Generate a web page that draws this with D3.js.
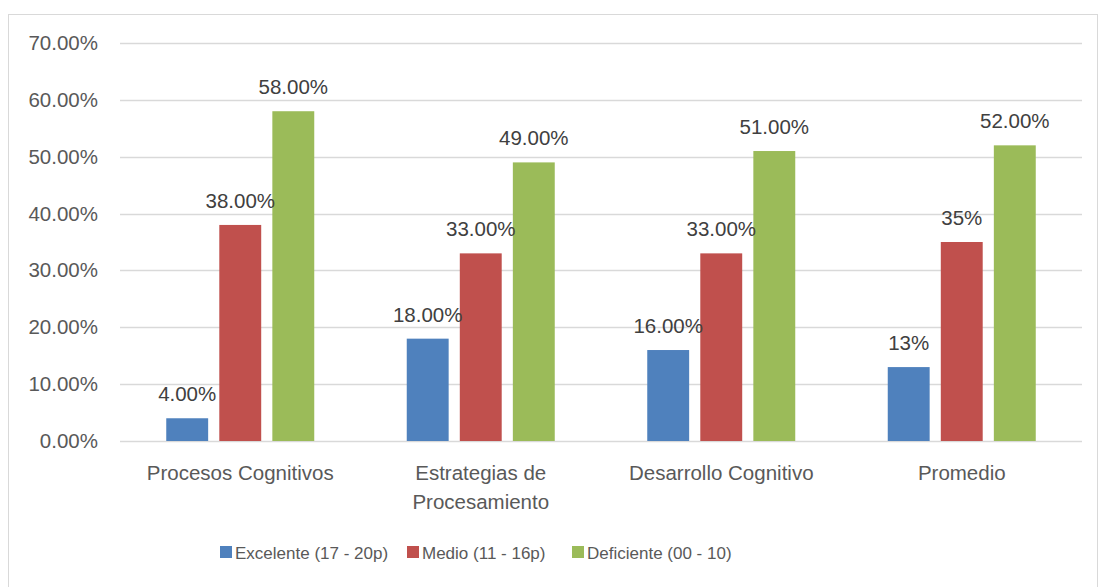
<!DOCTYPE html>
<html>
<head>
<meta charset="utf-8">
<script src="https://cdn.jsdelivr.net/npm/d3@7"></script>
<style>
body { margin: 0; background: #fff; }
svg { font-family: "Liberation Sans", Arial, sans-serif; }
</style>
</head>
<body>
<div id="chart"></div>
<script>
var categories = [["Procesos Cognitivos"], ["Estrategias de", "Procesamiento"], ["Desarrollo Cognitivo"], ["Promedio"]];
var seriesNames = ["Excelente (17 - 20p)", "Medio (11 - 16p)", "Deficiente (00 - 10)"];
var excelente = [4, 18, 16, 13];
var medio = [38, 33, 33, 35];
var deficiente = [58, 49, 51, 52];
var labels = [
  ["4.00%", "18.00%", "16.00%", "13%"],
  ["38.00%", "33.00%", "33.00%", "35%"],
  ["58.00%", "49.00%", "51.00%", "52.00%"]
];
var yTicks = [0, 10, 20, 30, 40, 50, 60, 70];
var colors = ["#4f81bd", "#c0504d", "#9bbb59"];

var W = 1098, H = 587;
var margin = {top: 43, right: 16, bottom: 146, left: 120},
width = W - margin.left - margin.right,
height = H - margin.top - margin.bottom;

var svg = d3.select("#chart")
.append("svg")
.attr("width", W)
.attr("height", H);

// outer chart border
svg.append("rect")
.attr("x", 8.5).attr("y", 14.5)
.attr("width", W - 9).attr("height", H)
.attr("fill", "none")
.attr("stroke", "#d9d9d9");

var g = svg.append("g")
.attr("transform", "translate(" + margin.left + "," + margin.top + ")");

var keys = categories.map(function(d, i) { return i; });
var series = [excelente, medio, deficiente];

var x0 = d3.scaleBand().domain(keys).range([0, width]);
var x1 = d3.scaleBand().domain([0, 1, 2]).range([x0.bandwidth() / 2 - 74, x0.bandwidth() / 2 + 74]).paddingInner(0.21).paddingOuter(0);
var y = d3.scaleLinear().domain([0, 70]).range([height, 0]);

// gridlines
g.selectAll(".grid")
.data(yTicks)
.enter().append("line")
.attr("x1", 0).attr("x2", width)
.attr("y1", function(d) { return Math.round(y(d)) + 0.5; })
.attr("y2", function(d) { return Math.round(y(d)) + 0.5; })
.attr("stroke", "#d9d9d9")
.attr("stroke-width", 1.3);

// y axis labels
var yAxis = d3.axisLeft(y).tickValues(yTicks).tickSize(0).tickPadding(22)
.tickFormat(function(d) { return d.toFixed(2) + "%"; });
g.append("g")
.call(yAxis)
.call(function(s) { s.select(".domain").remove(); })
.selectAll("text")
.attr("fill", "#595959")
.attr("font-size", 20.5)
.attr("font-family", "Liberation Sans, Arial, sans-serif");

// bars
var groups = g.selectAll(".cat")
.data(keys)
.enter().append("g")
.attr("transform", function(d) { return "translate(" + x0(d) + ",0)"; });

groups.selectAll("rect")
.data(function(c) { return series.map(function(s, si) { return {si: si, v: s[c], c: c}; }); })
.enter().append("rect")
.attr("x", function(d) { return x1(d.si); })
.attr("width", x1.bandwidth())
.attr("y", function(d) { return y(d.v); })
.attr("height", function(d) { return height - y(d.v); })
.attr("fill", function(d) { return colors[d.si]; });

groups.selectAll(".lbl")
.data(function(c) { return series.map(function(s, si) { return {si: si, v: s[c], c: c}; }); })
.enter().append("text")
.attr("x", function(d) { return x1(d.si) + x1.bandwidth() / 2; })
.attr("y", function(d) { return y(d.v) - 17; })
.attr("text-anchor", "middle")
.attr("font-size", 20.5)
.attr("fill", "#404040")
.text(function(d) { return labels[d.si][d.c]; });

// category labels
groups.append("text")
.attr("text-anchor", "middle")
.attr("font-size", 20.5)
.attr("fill", "#595959")
.selectAll("tspan")
.data(function(c) { return categories[c]; })
.enter().append("tspan")
.attr("x", x0.bandwidth() / 2)
.attr("y", function(d, i) { return height + 39 + i * 29; })
.text(function(d) { return d; });

// legend
var legendX = [220, 407, 572];
var legend = svg.append("g")
.selectAll("g")
.data(seriesNames)
.enter().append("g")
.attr("transform", function(d, i) { return "translate(" + legendX[i] + ",546)"; });

legend.append("rect")
.attr("width", 12).attr("height", 12)
.attr("fill", function(d, i) { return colors[i]; });

legend.append("text")
.attr("x", 15).attr("y", 13)
.attr("font-size", 17)
.attr("fill", "#595959")
.text(function(d) { return d; });
</script>
</body>
</html>
